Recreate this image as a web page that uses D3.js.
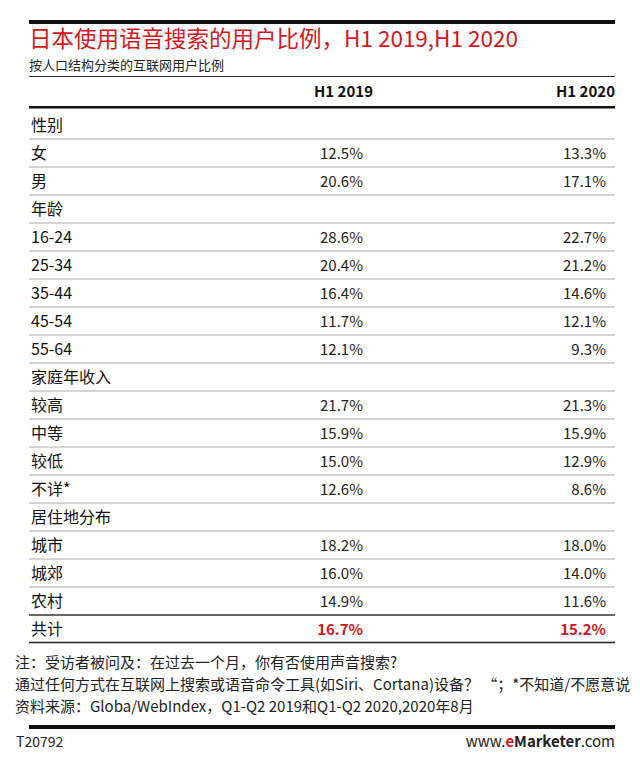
<!DOCTYPE html>
<html><head><meta charset="utf-8">
<script src="https://cdn.jsdelivr.net/npm/d3@7"></script>
<style>body{margin:0;background:#fff}text{font-family:"Noto Sans CJK SC","Liberation Sans",sans-serif}</style>
</head><body><svg id="c" width="640" height="771"></svg>
<script>
const columns = ["H1 2019", "H1 2020"];
const labels = ["性别","女","男","年龄","16-24","25-34","35-44","45-54","55-64","家庭年收入","较高","中等","较低","不详*","居住地分布","城市","城郊","农村","共计"];
const isGroup = [1,0,0,1,0,0,0,0,0,1,0,0,0,0,1,0,0,0,0];
const v2019 = [null,12.5,20.6,null,28.6,20.4,16.4,11.7,12.1,null,21.7,15.9,15.0,12.6,null,18.2,16.0,14.9,16.7];
const v2020 = [null,13.3,17.1,null,22.7,21.2,14.6,12.1,9.3,null,21.3,15.9,12.9,8.6,null,18.0,14.0,11.6,15.2];
const notes = ["注：受访者被问及：在过去一个月，你有否使用声音搜索?","通过任何方式在互联网上搜索或语音命令工具(如Siri、Cortana)设备？ “；*不知道/不愿意说","资料来源：Globa/WebIndex，Q1-Q2 2019和Q1-Q2 2020,2020年8月"];

const svg = d3.select("#c");
const L=29, R=615;
const y = d3.scaleLinear().domain([0,18]).range([125,629]);
svg.append("rect").attr("x",L).attr("y",20).attr("width",R-L).attr("height",4).attr("fill","#111");
svg.append("text").attr("x",L).attr("y",47).attr("font-size",22.5).attr("fill","#d0171f").text("日本使用语音搜索的用户比例，H1 2019,H1 2020");
svg.append("text").attr("x",L).attr("y",70).attr("font-size",13).attr("fill","#222").text("按人口结构分类的互联网用户比例");
svg.append("line").attr("x1",L).attr("x2",R).attr("y1",76.5).attr("y2",76.5).attr("stroke","#333").attr("stroke-width",1.2);
const cx=[373,615], vx=[363,606];
columns.forEach((c,i)=>svg.append("text").attr("x",cx[i]).attr("y",97).attr("text-anchor","end").attr("font-size",15).attr("font-weight","bold").attr("fill","#111").text(c));
svg.append("rect").attr("x",L).attr("y",106).attr("width",R-L).attr("height",2.5).attr("fill","#111");
labels.forEach((l,i)=>{
  const yy=y(i);
  const last=i===labels.length-1;
  svg.append("text").attr("x",31).attr("y",yy+6).attr("font-size",16).attr("fill","#111").text(l);
  [v2019[i],v2020[i]].forEach((v,j)=>{ if(v==null) return;
    svg.append("text").attr("x",vx[j]).attr("y",yy+6).attr("text-anchor","end").attr("font-size",15)
      .attr("fill",last?"#d0171f":"#222").attr("font-weight",last?"bold":"normal").text(v.toFixed(1)+"%");});
  if(i<labels.length-1){
    const strong = i===labels.length-2;
    svg.append("line").attr("x1",L).attr("x2",R).attr("y1",yy+14).attr("y2",yy+14)
      .attr("stroke",strong?"#333":"#aaa").attr("stroke-width",strong?1.3:1);
  }
});
svg.append("line").attr("x1",L).attr("x2",R).attr("y1",y(18)+13.5).attr("y2",y(18)+13.5).attr("stroke","#222").attr("stroke-width",1.5);
notes.forEach((n,i)=>svg.append("text").attr("x",15).attr("y",668+i*22).attr("font-size",15).attr("fill","#222").text(n));
svg.append("rect").attr("x",L).attr("y",725).attr("width",R-L).attr("height",4).attr("fill","#111");
svg.append("text").attr("x",16).attr("y",747).attr("font-size",14).attr("fill","#222").text("T20792");
const t=svg.append("text").attr("x",R).attr("y",747).attr("text-anchor","end").attr("font-size",15).attr("fill","#222");
t.append("tspan").text("www.");t.append("tspan").attr("fill","#d0171f").attr("font-weight","bold").text("e");
t.append("tspan").attr("font-weight","bold").text("Marketer");t.append("tspan").text(".com");
</script></body></html>
